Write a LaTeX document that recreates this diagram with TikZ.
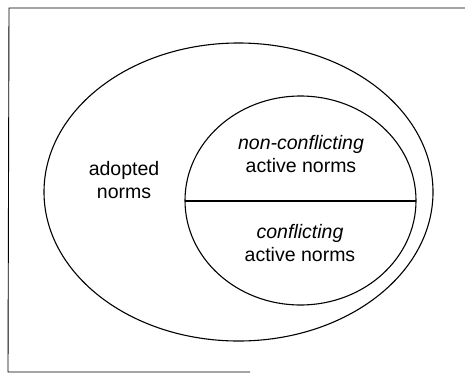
\documentclass[tikz,border=0pt]{standalone}
\usepackage{fontspec}
\setmainfont{Liberation Sans}
\begin{document}
\begin{tikzpicture}[x=1pt,y=-1pt,
  setline/.style={line width=1.1pt, black},
  lbl/.style={align=center, font=\fontsize{19.5}{23}\selectfont, inner sep=0pt}]
\useasboundingbox (0,0) rectangle (465,375);
% frame
\draw[line width=0.9pt] (465,8) -- (9,8) -- (8,372) -- (250,372);
% adopted norms
\draw[setline] (238.5,192) ellipse [x radius=194.5, y radius=149];
% active norms, split into two halves
\draw[setline] (300.5,200.5) ellipse [x radius=115.5, y radius=104.5];
\coordinate (splitL) at (185,201);
\coordinate (splitR) at (416,201);
\draw[setline] (splitL) -- (splitR);
\node[lbl] (adopted) at (124,180) {adopted\\norms};
\node[lbl] (nonconf) at (301,154) {\textit{non-conflicting}\\active norms};
\node[lbl] (conf) at (300,243) {\textit{conflicting}\\active norms};
\end{tikzpicture}
\end{document}
